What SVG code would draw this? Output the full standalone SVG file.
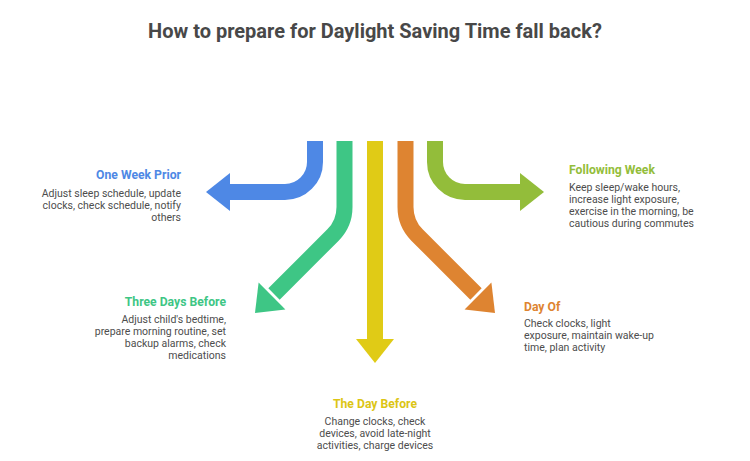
<svg xmlns="http://www.w3.org/2000/svg" width="750" height="461" viewBox="0 0 750 461">
<style>
.title{font-family:Roboto,"Liberation Sans",sans-serif;font-weight:bold;font-size:20px;fill:#484848}
.h{font-family:Roboto,"Liberation Sans",sans-serif;font-weight:bold;font-size:12.2px}
.b{font-family:Roboto,"Liberation Sans",sans-serif;font-size:10.5px;fill:#4d4d4d}
.shaft{fill:none;stroke-width:16;stroke-linecap:butt;stroke-linejoin:round}
</style>
<rect width="750" height="461" fill="#ffffff"/>
<text class="title" x="375" y="38" text-anchor="middle">How to prepare for Daylight Saving Time fall back?</text>
<g id="connectors">
  <path class="shaft" stroke="#4E88E5" d="M315 141 V162 A30 30 0 0 1 285 192 H228"/>
  <polygon fill="#4E88E5" points="206,192 230,173 230,211"/>
  <path class="shaft" stroke="#3EC685" d="M344.5 141 V207 Q344.5 223.5 333 235 L274 294"/>
  <polygon fill="#3EC685" points="255,313 285.4,309.4 258.6,282.6"/>
  <path class="shaft" stroke="#E0CB16" d="M375 141 V341"/>
  <polygon fill="#E0CB16" points="356,339 394,339 375,363"/>
  <path class="shaft" stroke="#DE8431" d="M405.5 141 V207 Q405.5 223.5 417 235 L476 294"/>
  <polygon fill="#DE8431" points="495,313 464.6,309.4 491.4,282.6"/>
  <path class="shaft" stroke="#93BD3A" d="M435 141 V162 A30 30 0 0 0 465 192 H522"/>
  <polygon fill="#93BD3A" points="544,192 520,173 520,211"/>
</g>
<g id="one-week-prior" text-anchor="end">
  <text class="h" x="181" y="179" fill="#4E88E5">One Week Prior</text>
  <text class="b" x="181" y="197">Adjust sleep schedule, update</text>
  <text class="b" x="181" y="209">clocks, check schedule, notify</text>
  <text class="b" x="181" y="221">others</text>
</g>
<g id="following-week">
  <text class="h" x="569" y="174" fill="#93BD3A">Following Week</text>
  <text class="b" x="569" y="191">Keep sleep/wake hours,</text>
  <text class="b" x="569" y="203">increase light exposure,</text>
  <text class="b" x="569" y="215">exercise in the morning, be</text>
  <text class="b" x="569" y="227">cautious during commutes</text>
</g>
<g id="three-days-before" text-anchor="end">
  <text class="h" x="226" y="306" fill="#3EC685">Three Days Before</text>
  <text class="b" x="226" y="323">Adjust child's bedtime,</text>
  <text class="b" x="226" y="335">prepare morning routine, set</text>
  <text class="b" x="226" y="347">backup alarms, check</text>
  <text class="b" x="226" y="359">medications</text>
</g>
<g id="day-of">
  <text class="h" x="524" y="311" fill="#DE8431">Day Of</text>
  <text class="b" x="524" y="327">Check clocks, light</text>
  <text class="b" x="524" y="339">exposure, maintain wake-up</text>
  <text class="b" x="524" y="351">time, plan activity</text>
</g>
<g id="the-day-before" text-anchor="middle">
  <text class="h" x="375" y="408" fill="#DCC515">The Day Before</text>
  <text class="b" x="375" y="425">Change clocks, check</text>
  <text class="b" x="375" y="437">devices, avoid late-night</text>
  <text class="b" x="375" y="449">activities, charge devices</text>
</g>
</svg>
